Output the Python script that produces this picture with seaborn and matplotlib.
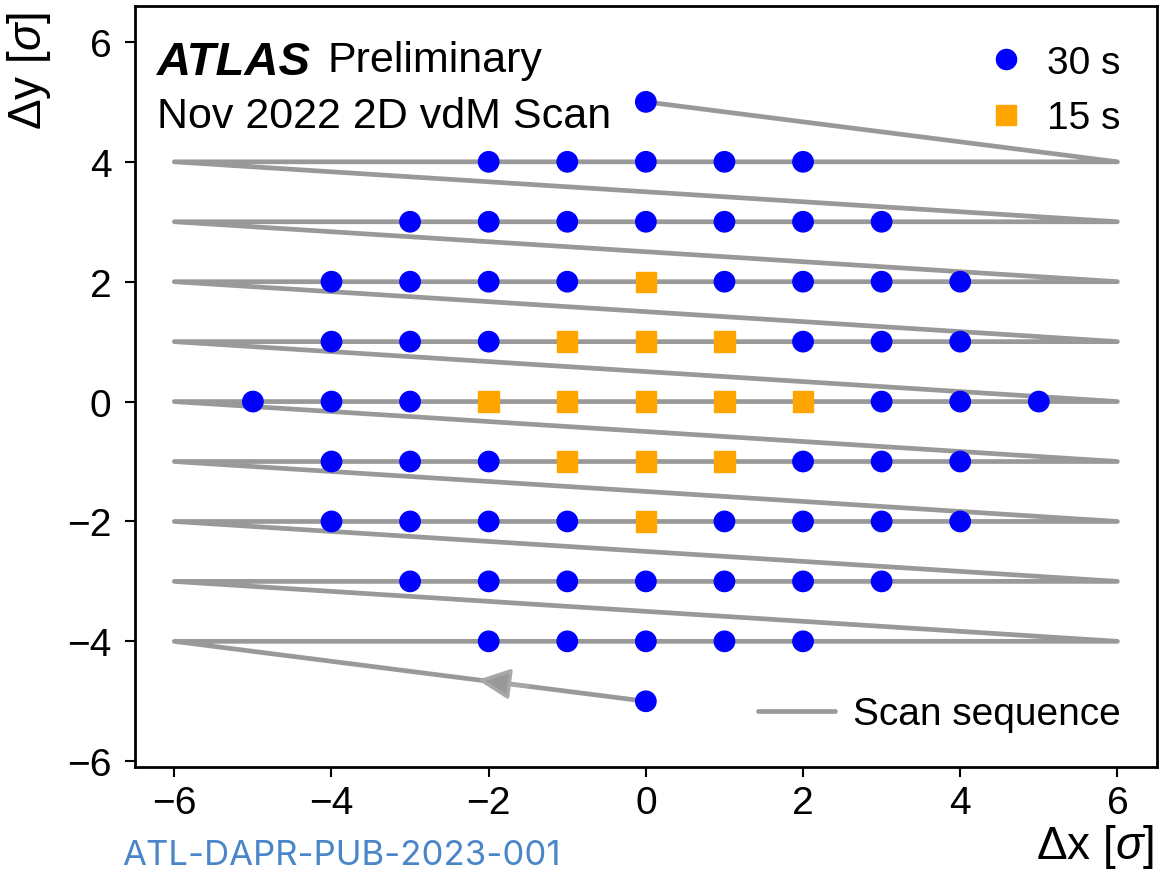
import matplotlib
matplotlib.use("Agg")
import matplotlib.pyplot as plt
import seaborn as sns
import pandas as pd
from matplotlib.lines import Line2D

# ---- data ----
x_30s = [0,
         -2, -1, 0, 1, 2,
         -3, -2, -1, 0, 1, 2, 3,
         -4, -3, -2, -1, 1, 2, 3, 4,
         -4, -3, -2, 2, 3, 4,
         -5, -4, -3, 3, 4, 5,
         -4, -3, -2, 2, 3, 4,
         -4, -3, -2, -1, 1, 2, 3, 4,
         -3, -2, -1, 0, 1, 2, 3,
         -2, -1, 0, 1, 2,
         0]
y_30s = [5,
         4, 4, 4, 4, 4,
         3, 3, 3, 3, 3, 3, 3,
         2, 2, 2, 2, 2, 2, 2, 2,
         1, 1, 1, 1, 1, 1,
         0, 0, 0, 0, 0, 0,
         -1, -1, -1, -1, -1, -1,
         -2, -2, -2, -2, -2, -2, -2, -2,
         -3, -3, -3, -3, -3, -3, -3,
         -4, -4, -4, -4, -4,
         -5]
x_15s = [0, -1, 0, 1, -2, -1, 0, 1, 2, -1, 0, 1, 0]
y_15s = [2, 1, 1, 1, 0, 0, 0, 0, 0, -1, -1, -1, -2]

scan_x = [0, -6, 6, -6, 6, -6, 6, -6, 6, -6, 6, -6, 6, -6, 6, -6, 6, -6, 6, 0]
scan_y = [-5, -4, -4, -3, -3, -2, -2, -1, -1, 0, 0, 1, 1, 2, 2, 3, 3, 4, 4, 5]

x_ticks = [-6, -4, -2, 0, 2, 4, 6]
y_ticks = [-6, -4, -2, 0, 2, 4, 6]
tick_labels = ['\u22126', '\u22124', '\u22122', '0', '2', '4', '6']

# ---- style ----
sns.set_style("ticks")
plt.rcParams['font.family'] = ['Liberation Sans', 'DejaVu Sans']
plt.rcParams['mathtext.fontset'] = 'custom'
plt.rcParams['mathtext.rm'] = 'Liberation Sans'
plt.rcParams['mathtext.it'] = 'Liberation Sans:italic'
for k in ['text.color', 'axes.labelcolor', 'xtick.color', 'ytick.color',
          'axes.edgecolor']:
    plt.rcParams[k] = 'black'

fig = plt.figure(figsize=(11.59, 8.70), dpi=100)
ax = fig.add_axes([0.1165, 0.117, 0.8815, 0.875])

line_color = '#999999'
scan_df = pd.DataFrame({'x': scan_x, 'y': scan_y})
sns.lineplot(data=scan_df, x='x', y='y', sort=False, estimator=None,
             color=line_color, linewidth=3.4, ax=ax, zorder=1)

# direction arrow on first segment
ax.annotate('', xy=(-2.14, -5 + 2.14 / 6), xytext=(-1.5, -5 + 1.5 / 6),
            arrowprops=dict(arrowstyle='-|>,head_length=2.0,head_width=0.95',
                            facecolor=line_color, edgecolor='#a8a8a8',
                            lw=2.5, shrinkA=0, shrinkB=0),
            zorder=2)

pts = pd.DataFrame({
    'x': x_30s + x_15s,
    'y': y_30s + y_15s,
    'dwell': ['30 s'] * len(x_30s) + ['15 s'] * len(x_15s),
})
palette = {'30 s': '#0000ff', '15 s': '#ffa500'}
markers = {'30 s': 'o', '15 s': 's'}
sns.scatterplot(data=pts, x='x', y='y', hue='dwell', style='dwell',
                palette=palette, markers=markers, s=215, linewidth=1.0,
                edgecolor='face', ax=ax, zorder=3, legend=False)

ax.set_xlim(-6.5, 6.5)
ax.set_ylim(-6.1, 6.6)
ax.set_xticks(x_ticks)
ax.set_yticks(y_ticks)
ax.set_xticklabels(tick_labels)
ax.set_yticklabels(tick_labels)
ax.tick_params(labelsize=28, length=7, width=1.5, direction='out')
ax.tick_params(axis='y', pad=10)
ax.tick_params(axis='x', pad=6)
for sp in ax.spines.values():
    sp.set_visible(True)
    sp.set_linewidth(2)

ax.set_xlabel('\u0394x [$\\it{\\sigma}$]', fontsize=33, loc='right')
ax.set_ylabel('\u0394y [$\\it{\\sigma}$]', fontsize=33, loc='top')
ax.xaxis.set_label_coords(0.997, -0.072)
ax.yaxis.set_label_coords(-0.08, 0.993)

ax.text(0.0215, 0.955, 'ATLAS', transform=ax.transAxes, fontsize=34,
        fontweight='bold', fontstyle='italic', va='top', ha='left')
ax.text(0.1885, 0.955, 'Preliminary', transform=ax.transAxes, fontsize=31,
        va='top', ha='left')
ax.text(0.0215, 0.882, 'Nov 2022 2D vdM Scan', transform=ax.transAxes,
        fontsize=31, va='top', ha='left')

h1 = [Line2D([], [], marker='o', ls='', color='#0000ff', markersize=14.5),
      Line2D([], [], marker='s', ls='', color='#ffa500', markersize=14.5)]
leg1 = ax.legend(h1, ['30 s', '15 s'], loc='upper right', frameon=False,
                 fontsize=28, bbox_to_anchor=(0.999, 0.995),
                 handletextpad=0.45, labelspacing=0.5, handlelength=1.2)
ax.add_artist(leg1)
h2 = [Line2D([], [], color=line_color, lw=3.4)]
ax.legend(h2, ['Scan sequence'], loc='lower right', frameon=False,
          fontsize=28, bbox_to_anchor=(0.999, 0.0), handlelength=2.0,
          handletextpad=0.45)

fig.text(0.105, 0.006, 'ATL-DAPR-PUB-2023-001', color='#4a86c8',
         fontsize=25, family=['Inter', 'DejaVu Sans'], ha='left',
         va='baseline')

fig.savefig('out.png', dpi=100)
